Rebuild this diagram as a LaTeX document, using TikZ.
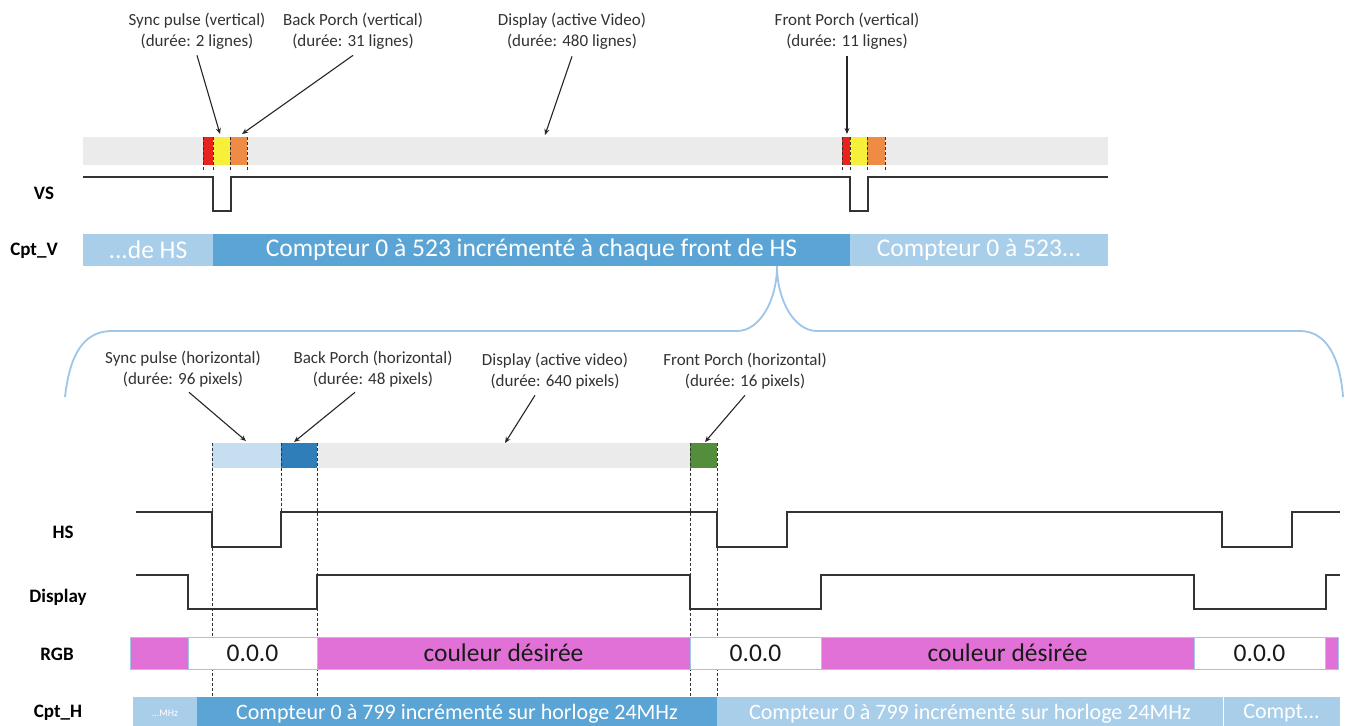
\documentclass[tikz,border=0pt]{standalone}
\usepackage{fontspec}
\setmainfont{Carlito}
\usetikzlibrary{arrows.meta}
\definecolor{barGray}{HTML}{EBEBEB}
\definecolor{vRed}{HTML}{E8231E}
\definecolor{vYellow}{HTML}{F7F03A}
\definecolor{vOrange}{HTML}{EE8C45}
\definecolor{cDark}{HTML}{5BA4D6}
\definecolor{cLight}{HTML}{A9CEE9}
\definecolor{hLight}{HTML}{C6DFF0}
\definecolor{hDark}{HTML}{2F7DB9}
\definecolor{hGreen}{HTML}{538E3C}
\definecolor{rgbMag}{HTML}{E171D6}
\definecolor{braceBlue}{HTML}{9DC6E8}
\definecolor{sigGray}{HTML}{333333}
\definecolor{txtGray}{HTML}{333333}
\tikzset{
  seg/.style={anchor=north west, inner sep=0pt, outer sep=0pt, draw=none},
  lbl/.style={align=center, text=txtGray, font=\fontsize{17}{21}\selectfont, inner sep=1pt},
  side/.style={font=\fontsize{19}{22}\selectfont\bfseries, text=black},
  arr/.style={draw=black!85, line width=1.1pt, -{Stealth[length=6pt,width=5pt]}},
  dsh/.style={draw=black!80, line width=0.8pt, dash pattern=on 3pt off 2pt},
  sig/.style={draw=sigGray, line width=1.8pt, line join=miter},
  brc/.style={draw=braceBlue, line width=1.8pt},
  cntV/.style={text=white, font=\fontsize{25.5}{28}\selectfont},
  cntH/.style={text=white, font=\fontsize{22}{25}\selectfont},
  rgbtxt/.style={text=black!90, font=\fontsize{25.5}{28}\selectfont},
}
\begin{document}
\begin{tikzpicture}[x=1pt,y=-1pt]
\useasboundingbox (0,0) rectangle (1348,725);
\fill[white] (0,0) rectangle (1348,725);

% ---------- top labels ----------
\node[lbl] (lsv) at (197,31) {Sync pulse (vertical)\\(durée: 2 lignes)};
\node[lbl] (lbv) at (353,31) {Back Porch (vertical)\\(durée: 31 lignes)};
\node[lbl] (ldv) at (572,31) {Display (active Video)\\(durée: 480 lignes)};
\node[lbl] (lfv) at (847,31) {Front Porch (vertical)\\(durée: 11 lignes)};

% ---------- top bar ----------
\node[seg, fill=barGray, minimum width=1025pt, minimum height=28pt] (vbar) at (83,137) {};
\node[seg, fill=vRed, minimum width=10pt, minimum height=28pt] (vr1) at (203,137) {};
\node[seg, fill=vYellow, minimum width=17pt, minimum height=28pt] (vy1) at (213,137) {};
\node[seg, fill=vOrange, minimum width=17pt, minimum height=28pt] (vo1) at (230,137) {};
\node[seg, fill=vRed, minimum width=8pt, minimum height=28pt] (vr2) at (842,137) {};
\node[seg, fill=vYellow, minimum width=17pt, minimum height=28pt] (vy2) at (850,137) {};
\node[seg, fill=vOrange, minimum width=18pt, minimum height=28pt] (vo2) at (867,137) {};
\foreach \xx in {203,213,230,247,842,850,867,885}{
  \draw[dsh] (\xx,137) -- (\xx,172);
}

% arrows top
\draw[arr] (lsv.south) ++(0,5) -- (220,134);
\draw[arr] (lbv.south) ++(0,5) -- (242,134);
\draw[arr] (ldv.south) ++(0,6) -- (545,135);
\draw[arr] (lfv.south) ++(0,6) -- (847,134);

% VS signal
\node[side] (sVS) at (44,193) {VS};
\draw[sig] (83,177) -- (213,177) -- (213,211) -- (231,211) -- (231,177)
  -- (850,177) -- (850,211) -- (868,211) -- (868,177) -- (1108,177);

% Cpt_V
\node[side] (sCV) at (34,251) {Cpt\_V};
\node[seg, fill=cLight, minimum width=130pt, minimum height=32pt, cntV] (cv1) at (83,234) {...de HS};
\node[seg, fill=cDark, minimum width=637pt, minimum height=32pt, cntV] (cv2) at (213,234) {Compteur 0 à 523 incrémenté à chaque front de HS};
\node[seg, fill=cLight, minimum width=258pt, minimum height=32pt, cntV] (cv3) at (850,234) {Compteur 0 à 523...};

% brace
\coordinate (apex) at (777,266);
\draw[brc] (65,397) .. controls (70,352) and (85,331) .. (112,331) -- (737,331)
  .. controls (760,331) and (777,300) .. (apex);
\draw[brc] (apex) .. controls (777,300) and (794,331) .. (817,331) -- (1300,331)
  .. controls (1325,331) and (1340,355) .. (1343,397);

% ---------- bottom labels ----------
\node[lbl] (lsh) at (183,369) {Sync pulse (horizontal)\\(durée: 96 pixels)};
\node[lbl] (lbh) at (373,369) {Back Porch (horizontal)\\(durée: 48 pixels)};
\node[lbl] (ldh) at (555,371) {Display (active video)\\(durée: 640 pixels)};
\node[lbl] (lfh) at (745,371) {Front Porch (horizontal)\\(durée: 16 pixels)};

% dashed guides
\draw[dsh] (212,443) -- (212,697);
\draw[dsh] (281,443) -- (281,512);
\draw[dsh] (317,443) -- (317,697);
\draw[dsh] (690,443) -- (690,697);
\draw[dsh] (717,443) -- (717,697);

% bottom bar
\node[seg, fill=hLight, minimum width=69pt, minimum height=25pt] (hb1) at (212,443) {};
\node[seg, fill=hDark, minimum width=36pt, minimum height=25pt] (hb2) at (281,443) {};
\node[seg, fill=barGray, minimum width=373pt, minimum height=25pt] (hb3) at (317,443) {};
\node[seg, fill=hGreen, minimum width=27pt, minimum height=25pt] (hb4) at (690,443) {};
\foreach \xx in {212,281,317,690,717}{
  \draw[dsh] (\xx,443) -- (\xx,468);
}

% arrows bottom
\draw[arr] (lsh.south) ++(6,4) -- (246,441);
\draw[arr] (lbh.south) ++(-18,4) -- (294,442);
\draw[arr] (ldh.south) ++(-20,5) -- (505,443);
\draw[arr] (lfh.south) ++(0,5) -- (705,442);

% HS
\node[side] (sHS) at (63,532) {HS};
\draw[sig] (136,512) -- (212,512) -- (212,547) -- (281,547) -- (281,512)
  -- (717,512) -- (717,547) -- (787,547) -- (787,512) -- (1222,512)
  -- (1222,547) -- (1292,547) -- (1292,512) -- (1340,512);

% Display
\node[side] (sDS) at (58,597) {Display};
\draw[sig] (136,575) -- (188,575) -- (188,609) -- (317,609) -- (317,575)
  -- (690,575) -- (690,609) -- (821,609) -- (821,575) -- (1194,575)
  -- (1194,609) -- (1326,609) -- (1326,575) -- (1340,575);

% RGB
\node[side] (sRGB) at (57,654) {RGB};
\tikzset{rgbseg/.style={seg, draw=braceBlue, line width=0.8pt, minimum height=32pt, rgbtxt}}
\node[rgbseg, fill=rgbMag, minimum width=58pt] (r1) at (130,637) {};
\node[rgbseg, fill=white, minimum width=129pt] (r2) at (188,637) {0.0.0};
\node[rgbseg, fill=rgbMag, minimum width=373pt] (r3) at (317,637) {couleur désirée};
\node[rgbseg, fill=white, minimum width=131pt] (r4) at (690,637) {0.0.0};
\node[rgbseg, fill=rgbMag, minimum width=373pt] (r5) at (821,637) {couleur désirée};
\node[rgbseg, fill=white, minimum width=131pt] (r6) at (1194,637) {0.0.0};
\node[rgbseg, fill=rgbMag, minimum width=13pt] (r7) at (1325,637) {};

% Cpt_H
\node[side] (sCH) at (58,713) {Cpt\_H};
\node[seg, fill=cLight, minimum width=64pt, minimum height=33pt, text=white, font=\fontsize{10}{12}\selectfont] (ch1) at (133,697) {...MHz};
\node[seg, fill=cDark, minimum width=520pt, minimum height=33pt, cntH] (ch2) at (197,697) {Compteur 0 à 799 incrémenté sur horloge 24MHz};
\node[seg, fill=cLight, minimum width=506pt, minimum height=33pt, cntH] (ch3) at (717,697) {Compteur 0 à 799 incrémenté sur horloge 24MHz};
\node[seg, fill=cLight, minimum width=117pt, minimum height=33pt, cntH] (ch4) at (1223,697) {Compt...};
\draw[white, line width=1pt] (ch4.north west) -- (ch4.south west);
\end{tikzpicture}
\end{document}
